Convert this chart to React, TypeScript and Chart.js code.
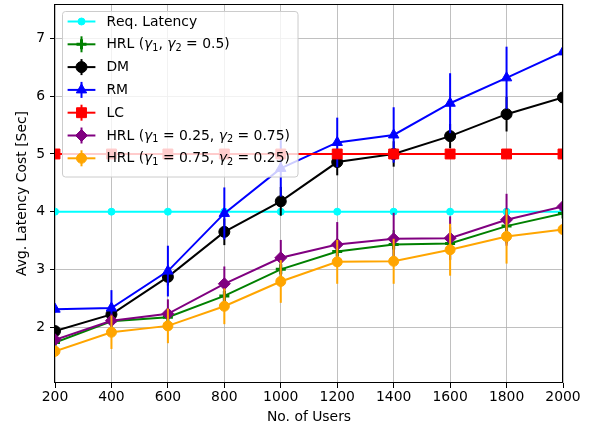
import React, { useEffect, useRef } from 'react';
import { Chart, registerables } from 'chart.js';
import { drawPoint } from 'chart.js/helpers';

Chart.register(...registerables);

const users = [200, 400, 600, 800, 1000, 1200, 1400, 1600, 1800, 2000];
const yTicks = [2, 3, 4, 5, 6, 7];

const reqLatency = [4, 4, 4, 4, 4, 4, 4, 4, 4, 4];
const hrlHalf = [1.73, 2.1, 2.17, 2.54, 3.0, 3.31, 3.43, 3.45, 3.75, 3.97];
const hrlHalfErr = [0.08, 0.12, 0.15, 0.18, 0.2, 0.22, 0.25, 0.28, 0.3, 0.3];
const dm = [1.93, 2.22, 2.87, 3.65, 4.18, 4.86, 5.0, 5.31, 5.69, 5.98];
const dmErr = [0.08, 0.1, 0.15, 0.23, 0.25, 0.23, 0.22, 0.21, 0.3, 0.4];
const rm = [2.31, 2.33, 2.97, 3.97, 4.75, 5.2, 5.33, 5.88, 6.32, 6.77];
const rmErr = [0.06, 0.31, 0.44, 0.45, 0.49, 0.43, 0.48, 0.52, 0.54, 0.58];
const lc = [5, 5, 5, 5, 5, 5, 5, 5, 5, 5];
const hrlLow = [1.78, 2.11, 2.23, 2.75, 3.2, 3.43, 3.53, 3.54, 3.86, 4.09];
const hrlLowErr = [0.1, 0.12, 0.25, 0.3, 0.31, 0.39, 0.45, 0.38, 0.45, 0.5];
const hrlHigh = [1.58, 1.91, 2.02, 2.36, 2.79, 3.13, 3.14, 3.34, 3.57, 3.69];
const hrlHighErr = [0.1, 0.29, 0.3, 0.31, 0.37, 0.38, 0.39, 0.45, 0.47, 0.48];

const FONT = "'DejaVu Sans', sans-serif";
const FS = 13.9;

function series(label: string, values: number[], errs: number[] | null, color: string,
  style: string, radius: number, legendBar: boolean, pbw = 1, rotation = 0) {
  return {
    label,
    data: users.map((u, i) => ({ x: u, y: values[i] })),
    errors: errs,
    legendBar,
    borderColor: color,
    backgroundColor: color,
    borderWidth: 2,
    pointStyle: style,
    pointRadius: radius,
    pointRotation: rotation,
    pointBackgroundColor: color,
    pointBorderColor: color,
    pointBorderWidth: pbw,
    tension: 0,
    clip: 0,
  };
}

function richText(ctx: CanvasRenderingContext2D, text: string, x: number, y: number, draw: boolean) {
  let cx = x;
  for (const ch of text) {
    let c = ch;
    let font = `${FS}px ${FONT}`;
    let dy = 0;
    if (ch === 'γ') font = `italic ${FS}px ${FONT}`;
    if (ch === '₁' || ch === '₂') {
      c = ch === '₁' ? '1' : '2';
      font = `${FS * 0.7}px ${FONT}`;
      dy = FS * 0.25;
    }
    ctx.font = font;
    if (draw) ctx.fillText(c, cx, y + dy);
    cx += ctx.measureText(c).width;
  }
  return cx - x;
}

function clipToArea(chart: any) {
  const { ctx, chartArea } = chart;
  ctx.beginPath();
  ctx.rect(chartArea.left, chartArea.top, chartArea.right - chartArea.left, chartArea.bottom - chartArea.top);
  ctx.clip();
}

const plotPlugin = {
  id: 'plotExtras',
  beforeDatasetsDraw(chart: any) {
    chart.ctx.save();
    clipToArea(chart);
  },
  beforeDatasetDraw(chart: any, args: any) {
    const ds = chart.data.datasets[args.index];
    const errs: number[] | null = ds.errors;
    if (!errs) return;
    const { ctx, scales } = chart;
    ctx.save();
    clipToArea(chart);
    ctx.strokeStyle = ds.borderColor;
    ctx.lineWidth = 2;
    ds.data.forEach((p: any, i: number) => {
      const e = errs[i];
      if (!e) return;
      const x = scales.x.getPixelForValue(p.x);
      ctx.beginPath();
      ctx.moveTo(x, scales.y.getPixelForValue(p.y - e));
      ctx.lineTo(x, scales.y.getPixelForValue(p.y + e));
      ctx.stroke();
    });
    ctx.restore();
  },
  afterDatasetsDraw(chart: any) {
    const { ctx, chartArea } = chart;
    ctx.restore();
    ctx.save();
    ctx.strokeStyle = '#000';
    ctx.lineWidth = 1;
    const l = Math.round(chartArea.left) - 0.5;
    const t = Math.round(chartArea.top) + 0.5;
    const r = Math.round(chartArea.right) - 0.5;
    const b = Math.round(chartArea.bottom) - 0.5;
    ctx.strokeRect(l, t, r - l, b - t);
    ctx.restore();
  },
};

const legendPlugin = {
  id: 'innerLegend',
  afterDraw(chart: any) {
    const { ctx, chartArea } = chart;
    const dss = chart.data.datasets;
    const left = chartArea.left + 7;
    const top = chartArea.top + 7;
    const rowH = 22.8;
    const pad = 5.6;
    const handleLen = 27.8;
    const textX = left + pad + handleLen + 11;
    ctx.save();
    let maxW = 0;
    dss.forEach((ds: any) => { maxW = Math.max(maxW, richText(ctx, ds.label, 0, 0, false)); });
    const w = textX - left + maxW + pad + 2;
    const h = 165.5;
    ctx.beginPath();
    ctx.roundRect(left + 0.5, top + 0.5, w, h, 3);
    ctx.fillStyle = 'rgba(255,255,255,0.8)';
    ctx.fill();
    ctx.strokeStyle = '#cccccc';
    ctx.lineWidth = 1;
    ctx.stroke();
    dss.forEach((ds: any, i: number) => {
      const cy = top + 10.5 + i * rowH;
      const hx0 = left + pad;
      const hx1 = hx0 + handleLen;
      const mx = (hx0 + hx1) / 2;
      ctx.strokeStyle = ds.borderColor;
      ctx.fillStyle = ds.borderColor;
      ctx.lineWidth = 2;
      ctx.beginPath();
      ctx.moveTo(hx0, cy);
      ctx.lineTo(hx1, cy);
      ctx.stroke();
      if (ds.legendBar) {
        ctx.beginPath();
        ctx.moveTo(mx, cy - 8);
        ctx.lineTo(mx, cy + 8);
        ctx.stroke();
      }
      ctx.lineWidth = ds.pointBorderWidth;
      drawPoint(ctx, {
        pointStyle: ds.pointStyle,
        radius: ds.pointRadius,
        rotation: ds.pointRotation,
        borderWidth: ds.pointBorderWidth,
      } as any, mx, cy);
      ctx.fillStyle = '#000';
      ctx.textBaseline = 'middle';
      ctx.textAlign = 'left';
      richText(ctx, ds.label, textX, cy + 0.5, true);
    });
    ctx.restore();
  },
};

export default function App() {
  const ref = useRef<HTMLCanvasElement>(null);
  useEffect(() => {
    document.body.style.margin = '0';
    Chart.defaults.font.family = FONT;
    const datasets: any[] = [
      series('Req. Latency', reqLatency, null, '#00ffff', 'circle', 3.5, false),
      series('HRL (γ₁, γ₂ = 0.5)', hrlHalf, hrlHalfErr, '#008000', 'cross', 5, true, 3),
      series('DM', dm, dmErr, '#000000', 'circle', 5.5, true),
      series('RM', rm, rmErr, '#0000ff', 'triangle', 6, true),
      series('LC', lc, [0, 0, 0, 0, 0, 0, 0, 0, 0, 0], '#ff0000', 'rect', 7, true),
      series('HRL (γ₁ = 0.25, γ₂ = 0.75)', hrlLow, hrlLowErr, '#800080', 'rectRot', 6, true),
      series('HRL (γ₁ = 0.75, γ₂ = 0.25)', hrlHigh, hrlHighErr, '#ffa500', 'circle', 5, true),
    ];
    datasets.forEach((d, i) => { d.order = datasets.length - i; });
    const zeroPad = (s: any, horiz: boolean) => {
      if (horiz) { s.paddingLeft = 0; s.paddingRight = 0; }
      else { s.paddingTop = 0; s.paddingBottom = 0; }
    };
    const chart = new Chart(ref.current!, {
      type: 'line',
      data: { datasets },
      options: {
        responsive: false,
        devicePixelRatio: 1,
        animation: false,
        layout: { autoPadding: false, padding: { left: 0, right: 28, top: 4, bottom: 0 } },
        plugins: { legend: { display: false }, tooltip: { enabled: false } },
        scales: {
          x: {
            type: 'linear',
            min: 200,
            max: 2000,
            afterBuildTicks: (s: any) => { s.ticks = users.map((v) => ({ value: v })); },
            afterFit: (s: any) => { s.height = 44; zeroPad(s, true); },
            ticks: { color: '#000', font: { size: FS, family: FONT }, padding: 1.5, maxRotation: 0, callback: (v: any) => String(v) },
            grid: { color: '#b0b0b0', lineWidth: 0.8, drawTicks: true, tickLength: 5, tickColor: '#000', tickWidth: 1 },
            border: { display: false },
            title: { display: true, text: 'No. of Users', color: '#000', font: { size: FS, family: FONT }, padding: { top: 0, bottom: 1.5 } },
          },
          y: {
            type: 'linear',
            min: 1.03,
            max: 7.6,
            afterBuildTicks: (s: any) => { s.ticks = yTicks.map((v) => ({ value: v })); },
            afterFit: (s: any) => { s.width = 55; zeroPad(s, false); },
            ticks: { color: '#000', font: { size: FS, family: FONT }, padding: 5, callback: (v: any) => String(v) },
            grid: { color: '#b0b0b0', lineWidth: 0.8, drawTicks: true, tickLength: 5, tickColor: '#000', tickWidth: 1 },
            border: { display: false },
            title: { display: true, text: 'Avg. Latency Cost [Sec]', color: '#000', font: { size: FS, family: FONT }, padding: { top: 14, bottom: 0 } },
          },
        },
      } as any,
      plugins: [plotPlugin, legendPlugin],
    });
    return () => chart.destroy();
  }, []);
  return <canvas ref={ref} width={591} height={427} style={{ display: 'block' }} />;
}
